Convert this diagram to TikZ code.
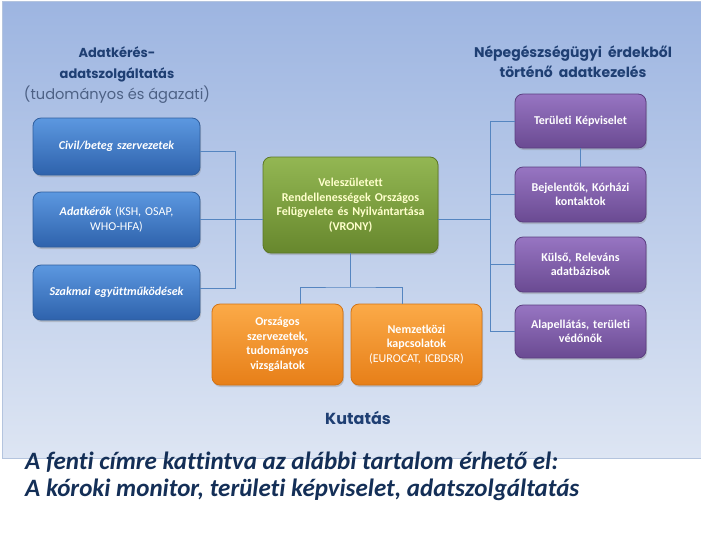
\documentclass[tikz,border=0pt]{standalone}
\usepackage{fontspec}
\setmainfont{Carlito}[Ligatures={NoCommon,NoContextual}]
\newfontfamily\gothic{Poppins}
\usetikzlibrary{shadows}
\definecolor{bgtop}{HTML}{9DB5E1}
\definecolor{bgbot}{HTML}{DDE5F3}
\definecolor{bgline}{HTML}{B4C4DE}
\definecolor{conn}{HTML}{5585C0}
\definecolor{headc}{HTML}{1F3F73}
\definecolor{subc}{HTML}{4D6185}
\definecolor{txtc}{HTML}{142F57}
\definecolor{bluet}{HTML}{5C98E0}
\definecolor{blueb}{HTML}{2E62AC}
\definecolor{bluel}{HTML}{2F5E9E}
\definecolor{greent}{HTML}{93B753}
\definecolor{greenb}{HTML}{67872D}
\definecolor{greenl}{HTML}{5B7726}
\definecolor{oranget}{HTML}{FBAA48}
\definecolor{orangeb}{HTML}{E77F18}
\definecolor{orangel}{HTML}{D27214}
\definecolor{purplet}{HTML}{9775C2}
\definecolor{purpleb}{HTML}{6A4A92}
\definecolor{purplel}{HTML}{5B3E80}
\definecolor{vronyt}{HTML}{FFFFCC}
\tikzset{
  boxbase/.style={rounded corners=8pt, inner sep=2pt, align=center, line width=0.8pt,
    font=\fontsize{12}{14.5}\selectfont\bfseries,
    drop shadow={shadow xshift=1pt, shadow yshift=-2pt, opacity=0.35}},
  bluebox/.style={boxbase, top color=bluet, bottom color=blueb, draw=bluel, text=white,
    minimum width=167pt, text width=160pt},
  greenbox/.style={boxbase, top color=greent, bottom color=greenb, draw=greenl, text=vronyt,
    minimum width=175pt, minimum height=96pt, text width=168pt},
  orangebox/.style={boxbase, top color=oranget, bottom color=orangeb, draw=orangel, text=white,
    minimum width=131pt, minimum height=81pt, text width=124pt},
  purplebox/.style={boxbase, top color=purplet, bottom color=purpleb, draw=purplel, text=white,
    minimum width=131pt, text width=124pt},
  connector/.style={draw=conn, line width=1pt},
  headtext/.style={font=\gothic\fontsize{13}{21}\selectfont\bfseries, text=headc, align=center, inner sep=0pt},
  bottomtext/.style={font=\fontsize{25}{29}\selectfont\bfseries\itshape, text=txtc, anchor=west, inner sep=0pt}
}
\begin{document}
\begin{tikzpicture}[x=1pt,y=-1pt]
\useasboundingbox (0,0) rectangle (701,558);
\fill[white] (0,0) rectangle (701,558);
\path[top color=bgtop, bottom color=bgbot, draw=bgline, line width=1pt] (2,1) rectangle (701,458);

% headings
\node[headtext] (lhead) at (117,64) {Adatkérés-\\adatszolgáltatás};
\node[headtext, font=\gothic\fontsize{14.6}{17}\selectfont, text=subc] (lsub) at (117,95) {(tudományos és ágazati)};
\node[headtext, font=\gothic\fontsize{14}{20}\selectfont\bfseries] (rhead) at (573,62) {Népegészségügyi\ \ érdekből\\történő\ \ adatkezelés};

% left boxes
\node[bluebox, minimum height=57pt] (civil) at (116.5,146.5) {\itshape Civil/beteg szervezetek};
\node[bluebox, minimum height=55pt] (adat) at (116.5,219.5) {{\itshape Adatkérők} \mdseries (KSH, OSAP,\\ WHO-HFA)};
\node[bluebox, minimum height=55pt] (szak) at (116.5,292.5) {\itshape Szakmai együttműködések};

% center
\node[greenbox] (vrony) at (350.5,205) {Veleszületett\\Rendellenességek Országos\\Felügyelete és Nyilvántartása\\(VRONY)};

% right boxes
\node[purplebox, minimum height=54pt] (ter) at (580.5,121) {Területi Képviselet};
\node[purplebox, minimum height=55pt] (bej) at (580.5,194.5) {Bejelentők, Kórházi\\kontaktok};
\node[purplebox, minimum height=55pt] (kul) at (580.5,264.5) {Külső, Releváns\\adatbázisok};
\node[purplebox, minimum height=53pt] (alap) at (580.5,331.5) {Alapellátás, területi\\védőnők};

% bottom boxes
\node[orangebox] (orsz) at (277.5,344.5) {Országos\\szervezetek,\\tudományos\\vizsgálatok};
\node[orangebox] (nemz) at (416.5,344.5) {Nemzetközi\\kapcsolatok\\{\mdseries (EUROCAT, ICBDSR)}};

\node[headtext, font=\gothic\fontsize{16}{18}\selectfont\bfseries] (kut) at (358,418) {Kutatás};

% connectors
\coordinate (lj) at (235,219);
\coordinate (rj) at (490,219);
\coordinate (bj) at (350,287);
\draw[connector] ([yshift=-5pt]civil.east) -- ([yshift=-5pt]civil.east -| lj) -- ([yshift=4pt]szak.east -| lj) -- ([yshift=4pt]szak.east);
\draw[connector] (adat.east) -- (adat.east -| vrony.west);
\draw[connector] (adat.east -| vrony.east) -- (adat.east -| rj);
\draw[connector] (ter.west) -- (ter.west -| rj) -- (alap.west -| rj) -- (alap.west);
\draw[connector] (bej.west) -- (bej.west -| rj);
\draw[connector] (kul.west) -- (kul.west -| rj);
\draw[connector] (ter.south) -- (bej.north);
\draw[connector] (vrony.south) -- (vrony.south |- bj);
\draw[connector] ([xshift=22.5pt]orsz.north) |- (bj) -| ([xshift=-14.5pt]nemz.north);

% bottom texts
\node[bottomtext] (t1) at (25,462) {A fenti címre kattintva az alábbi tartalom érhető el:};
\node[bottomtext] (t2) at (25,490) {A kóroki monitor, területi képviselet, adatszolgáltatás};
\end{tikzpicture}
\end{document}
